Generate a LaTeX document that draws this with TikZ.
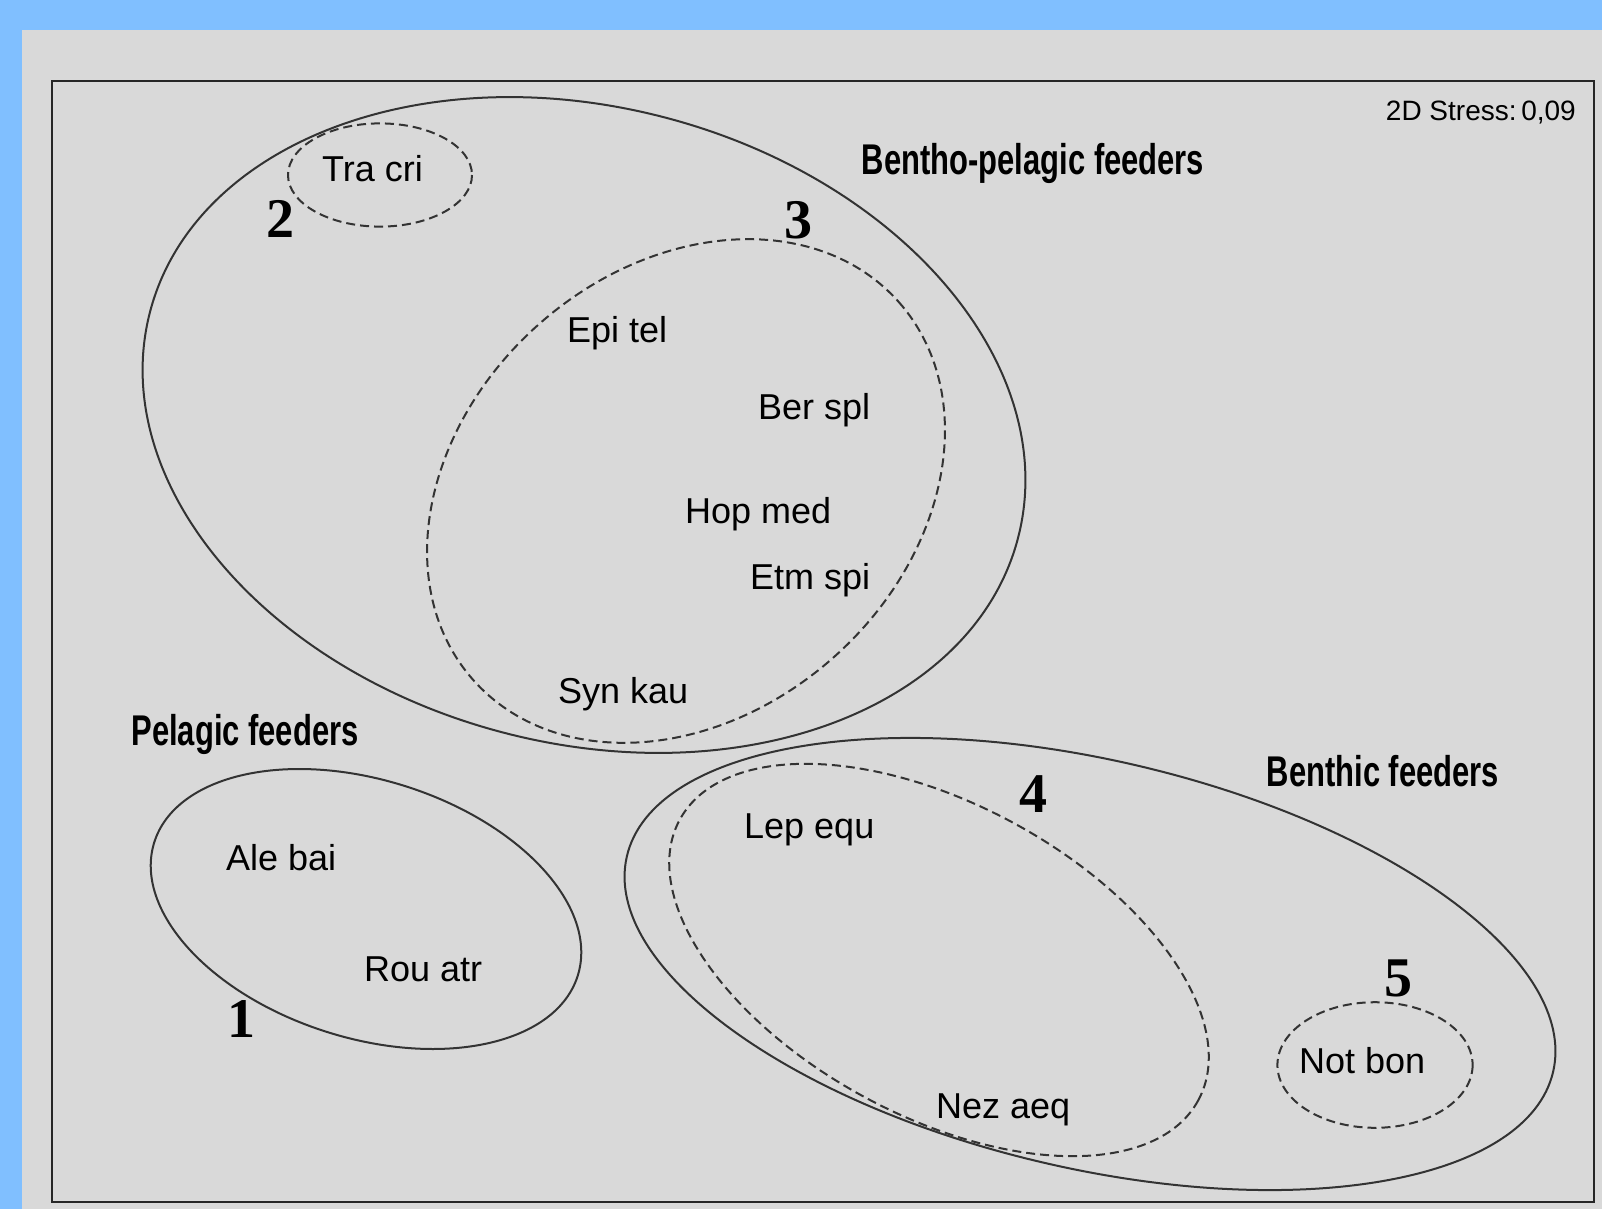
\documentclass[tikz,border=0pt]{standalone}
\usepackage{fontspec}
\setmainfont{Liberation Sans}
\newfontfamily\groupfont[FakeStretch=0.72]{Liberation Sans}
\newfontfamily\numfont{Liberation Serif}
\definecolor{panel blue}{HTML}{80BFFF}
\definecolor{panel gray}{HTML}{D9D9D9}
\tikzset{
    x={1pt},
    y={-1pt},
    plot frame/.style={
        draw=black!85,
        line width={2.5pt},
    },
    group outline/.style={
        draw=black!80,
        line width={2pt},
    },
    cluster outline/.style={
        group outline,
        dash pattern=on 9pt off 5pt,
    },
    species label/.style={
        font={\fontsize{36}{40}\selectfont},
        anchor=base west,
        inner sep=0pt,
    },
    group label/.style={
        font={\groupfont\fontsize{43}{48}\selectfont\bfseries},
        anchor=base,
        inner sep=0pt,
    },
    cluster number/.style={
        font={\numfont\fontsize{56}{60}\selectfont\bfseries},
        anchor=base,
        inner sep=0pt,
    },
    stress label/.style={
        font={\fontsize{28}{32}\selectfont},
        anchor=base east,
        inner sep=0pt,
    },
}

\begin{document}
\begin{tikzpicture}
% background
\useasboundingbox (0,0) rectangle (1602,1209);
\fill[panel blue] (0,0) rectangle (1602,1209);
\fill[panel gray] (22,30) rectangle (1602,1209);
\path[plot frame] (52,81) rectangle (1594,1202);
\node[stress label] (stress) at (1576,121) {2D Stress:\,0,09};
% groups
\path[group outline] (584,425) ellipse [x radius=448.5, y radius=318, rotate=-14.6];
\path[group outline] (366,909) ellipse [x radius=222, y radius=129, rotate=-17.5];
\path[group outline] (1090,964) ellipse [x radius=475.5, y radius=204, rotate=-13.1];
\node[group label] (bentho) at (1033,175) {Bentho-pelagic feeders};
\node[group label] (pelagic) at (245,745) {Pelagic feeders};
\node[group label] (benthic) at (1383,786) {Benthic feeders};
% clusters
\path[cluster outline] (380,175) ellipse [x radius=92, y radius=51.6];
\path[cluster outline] (686,491) ellipse [x radius=284.6, y radius=222.4, rotate=41.7];
\path[cluster outline] (939,960) ellipse [x radius=294.8, y radius=156, rotate=-28.4];
\path[cluster outline] (1375,1065) ellipse [x radius=97.6, y radius=62.8];
\node[cluster number] (n1) at (241,1037) {1};
\node[cluster number] (n2) at (280,237) {2};
\node[cluster number] (n3) at (798,238) {3};
\node[cluster number] (n4) at (1033,812) {4};
\node[cluster number] (n5) at (1398,996) {5};
% species
\node[species label] (tracri) at (322,182) {Tra cri};
\node[species label] (epitel) at (567,342) {Epi tel};
\node[species label] (berspl) at (758,419) {Ber spl};
\node[species label] (hopmed) at (685,523) {Hop med};
\node[species label] (etmspi) at (750,589) {Etm spi};
\node[species label] (synkau) at (558,703) {Syn kau};
\node[species label] (alebai) at (226,870) {Ale bai};
\node[species label] (rouatr) at (364,981) {Rou atr};
\node[species label] (lepequ) at (744,838) {Lep equ};
\node[species label] (nezaeq) at (936,1118) {Nez aeq};
\node[species label] (notbon) at (1299,1073) {Not bon};
\end{tikzpicture}
\end{document}
